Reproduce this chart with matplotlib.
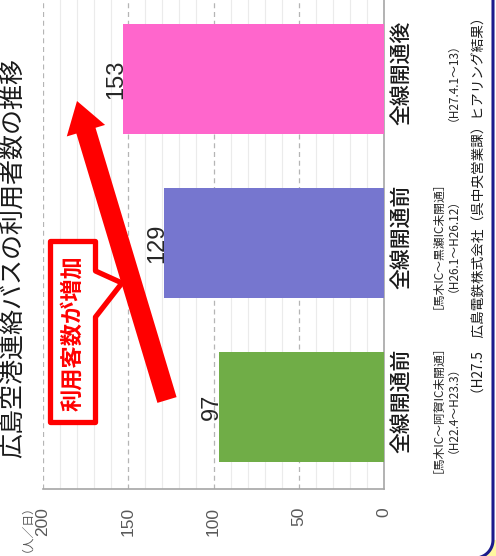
import numpy as np
import matplotlib
matplotlib.use('Agg')
import matplotlib.pyplot as plt
from matplotlib.patches import Polygon
import matplotlib.transforms as mtrans

# ---- data ----
categories = ['全線開通前', '全線開通前', '全線開通後']
sections = ['［馬木IC～阿賀IC未開通］', '［馬木IC～黒瀬IC未開通］', '']
periods = ['（H22.4～H23.3）', '（H26.1～H26.12）', '（H27.4.1～13）']
values = [97, 129, 153]
colors = ['#70ad47', '#7676cf', '#ff66cc']
xticks = [0, 50, 100, 150, 200]
title = '広島空港連絡バスの利用者数の推移'
unit = '（人／日）'
source = '（H27.5　広島電鉄株式会社（呉中央営業課）ヒアリング結果）'
callout = '利用客数が増加'

W, H = 496, 556
def fx(x):
    return x / W
def fy(y):
    return 1 - y / H

JP = ['Noto Sans CJK JP', 'DejaVu Sans']
NUM = ['Liberation Sans', 'DejaVu Sans']

fig = plt.figure(figsize=(W / 100, H / 100), dpi=100)
ax = fig.add_axes([fx(43), fy(489), fx(384) - fx(43), fy(-3) - fy(489)])
pos = np.arange(len(values))
ax.barh(pos, values, height=0.67, color=colors, zorder=3)
ax.set_xlim(200, 0)
ax.set_ylim(-0.5, 2.5)
ax.set_xticks(xticks)
ax.set_xticklabels([str(t) for t in xticks], rotation=90, fontsize=12.5,
                   color='#595959', family=NUM)
ax.set_xticks([m for m in range(0, 201, 10) if m % 50], minor=True)
ax.tick_params(axis='x', which='both', length=0, pad=13)
ax.set_yticks([])
ax.grid(which='minor', axis='x', color='#ebebeb', lw=0.8)
ax.grid(which='major', axis='x', color='#b5b5b5', lw=0.9, ls=(0, (4, 3)))
ax.set_axisbelow(True)
for s in ['top', 'left']:
    ax.spines[s].set_visible(False)
for s in ['right', 'bottom']:
    ax.spines[s].set_color('#a6a6a6')
    ax.spines[s].set_linewidth(1.2)

for v, p in zip(values, pos):
    ax.annotate(str(v), xy=(v, p), xytext=(3, 0), textcoords='offset points',
                rotation=90, ha='right', va='center', fontsize=17,
                family=NUM, color='#262626')

trans = mtrans.blended_transform_factory(fig.transFigure, ax.transData)
for c, s, pr, p in zip(categories, sections, periods, pos):
    ax.text(fx(401), p + 0.035, c, transform=trans, rotation=90, ha='center',
            va='center', fontsize=15, fontweight='medium', family=JP,
            color='#1a1a1a')
    if s:
        ax.text(fx(432), p + 0.02, s, transform=trans, rotation=90, ha='center',
                va='center', fontsize=8.5, family=JP, color='#262626')
    ax.text(fx(447), p + 0.02, pr, transform=trans, rotation=90, ha='center',
            va='center', fontsize=8.5, family=JP, color='#262626')

fig.text(fx(13), fy(258), title, rotation=90, ha='center', va='center',
         fontsize=18, family=JP, color='#1a1a1a')
fig.text(fx(21), fy(523), unit, rotation=90, ha='center', va='center',
         fontsize=8.5, family=JP, color='#595959')
fig.text(fx(480), fy(206), source, rotation=90, ha='center', va='center',
         fontsize=9.8, family=JP, color='#1a1a1a')

# ---- red arrow ----
T = np.array([167.0, 400.0])
P = np.array([77.0, 101.0])
d = (P - T) / np.linalg.norm(P - T)
n = np.array([-d[1], d[0]])
B = P - d * 31
pts = [T + n * 10, B + n * 10, B + n * 20, P, B - n * 20, B - n * 10, T - n * 10]
fig.add_artist(Polygon([(fx(x), fy(y)) for x, y in pts], closed=True,
                       transform=fig.transFigure, facecolor='#ff0000',
                       edgecolor='none', zorder=5))

# ---- callout box ----
cb = [(50.5, 241.5), (95.5, 241.5), (95.5, 271), (122, 283), (95.5, 317),
      (95.5, 422.5), (50.5, 422.5)]
fig.add_artist(Polygon([(fx(x), fy(y)) for x, y in cb], closed=True,
                       transform=fig.transFigure, facecolor='white',
                       edgecolor='#ff0000', lw=3.8, joinstyle='round', zorder=6))
fig.text(fx(73), fy(333), callout, rotation=90, ha='center', va='center',
         fontsize=16, fontweight='bold', family=JP, color='#ff0000', zorder=7)

# ---- frame corner ----
theta = np.linspace(0, -np.pi / 2, 30)
cx, cy, r = 475, 540, 18
arc = [(cx + r * np.cos(t), cy - r * np.sin(t)) for t in theta]
corner = [(W + 5, 540)] + arc + [(W + 5, H + 5)]
fig.add_artist(Polygon([(fx(x), fy(y)) for x, y in corner], closed=True,
                       transform=fig.transFigure, facecolor='#fff7a0',
                       edgecolor='none', zorder=8))
line = [(493, -5), (493, 540)] + arc
fig.add_artist(matplotlib.lines.Line2D([fx(x) for x, y in line],
                                       [fy(y) for x, y in line],
                                       transform=fig.transFigure,
                                       color='#1c1c8c', lw=2.2, zorder=9))

fig.savefig('out.png', dpi=100)
